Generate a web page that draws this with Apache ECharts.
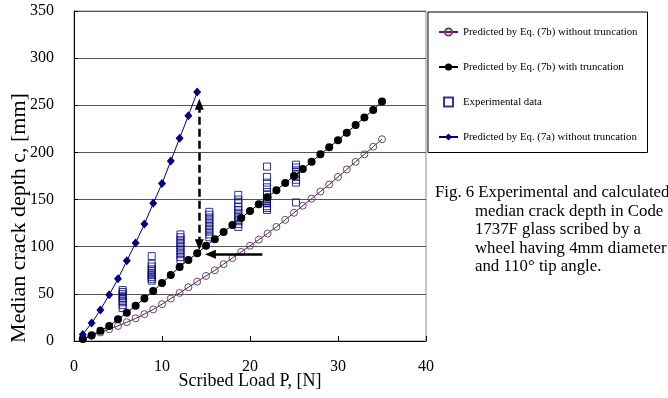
<!DOCTYPE html>
<html><head><meta charset="utf-8">
<script src="https://cdn.jsdelivr.net/npm/echarts@6/dist/echarts.min.js"></script>
<style>html,body{margin:0;padding:0;background:#fff}#c{width:668px;height:398px}</style>
</head><body><div id="c"></div>
<script>
// ---- data ----
const loads = [1,2,3,4,5,6,7,8,9,10,11,12,13,14,15,16,17,18,19,20,21,22,23,24,25,26,27,28,29,30,31,32,33,34,35];
const eq7bNoTrunc = [2.5,5.5,9,12.5,16,20,24,28.5,33.5,39,45,51,57,63,69,75,81.5,88,94.5,101,107.5,114,121,128.5,136,143.5,151,158.5,166,174,182,190,198,206,214];
const eq7bTrunc = [2,6,11,16,23,30,37.5,45,53,61.5,70,78.5,86,93,101,108,115.5,123,130.5,138,145,152.5,160,167.5,175,182.5,190,198,205.5,213,221,229,237,245,254];
const loads7a = [1,2,3,4,5,6,7,8,9,10,11,12,13,14];
const eq7a = [7,19,33,49,66,85,104,124,146,167,191,215,239,264];
const expLoads = [5.53, 8.83, 12.1, 15.38, 18.67, 21.93, 25.23];
const expDepths = [
  [35,38,41,44,46,48,50,52,54],
  [64,66,68,70,72,74,76,79,82,90],
  [86,89,92,95,98,101,104,107,110,113],
  [110,113,116,119,122,125,128,131,134,137],
  [121,124,127,130,133,136,139,142,146,150,155],
  [139,141,143,146,148,150,152,155,158,163,168,174,185],
  [147,168,171,174,177,179,181,184,187]
];
const xTickValues = [0,10,20,30,40];
const yTickValues = [0,50,100,150,200,250,300,350];
const seriesNames = [
  'Predicted by Eq. (7b) without truncation',
  'Predicted by Eq. (7b) with truncation',
  'Experimental data',
  'Predicted by Eq. (7a) without truncation'
];
const captionLines = [
  'Fig. 6 Experimental and calculated',
  'median crack depth in Code',
  '1737F glass scribed by a',
  'wheel having 4mm diameter',
  'and 110\u00b0 tip angle.'
];
const yAxisTitle = 'Median crack depth c, [mm]';
const xAxisTitle = 'Scribed Load P, [N]';
// annotation arrows (data coordinates)
const vArrow = [[14.24, 102], [14.24, 251]];
const hArrow = [[21.4, 92], [15.5, 92]];

// ---- build ----
const serif = '"Liberation Serif", "Times New Roman", serif';
const expPoints = [];
expLoads.forEach((p, i) => expDepths[i].forEach(c => expPoints.push([p, c])));

const chart = echarts.init(document.getElementById('c'), null, {renderer: 'canvas'});
const graphics = [{
  type: 'text', x: 19, y: 218, rotation: Math.PI / 2,
  style: {text: yAxisTitle, font: '22px ' + serif, fill: '#000', textAlign: 'center', textVerticalAlign: 'middle'}
}];
captionLines.forEach((t, i) => graphics.push({
  type: 'text', x: i === 0 ? 435 : 475, y: 193 + i * 18.4,
  style: {text: t, font: '16.8px ' + serif, fill: '#000', textAlign: 'left', textVerticalAlign: 'middle'}
}));

chart.setOption({
  animation: false,
  backgroundColor: '#fff',
  grid: {left: 74, top: 11, width: 352, height: 330, show: true, borderColor: '#888', borderWidth: 1},
  xAxis: {
    type: 'value', min: 0, max: 40, interval: 10,
    axisLine: {lineStyle: {color: '#000', width: 1}},
    axisTick: {inside: true, length: 5, lineStyle: {color: '#000'}},
    splitLine: {show: false},
    axisLabel: {margin: 18, color: '#000', fontFamily: serif, fontSize: 16,
      formatter: v => xTickValues.includes(v) ? String(v) : ''},
    name: xAxisTitle, nameLocation: 'middle', nameGap: 31, nameMoveOverlap: false,
    nameTextStyle: {color: '#000', fontFamily: serif, fontSize: 18}
  },
  yAxis: {
    type: 'value', min: 0, max: 350, interval: 50,
    axisLine: {show: true, lineStyle: {color: '#000', width: 1}},
    axisTick: {show: true, inside: true, length: 4, lineStyle: {color: '#000'}},
    splitLine: {show: true, lineStyle: {color: '#555', width: 1.2}},
    axisLabel: {margin: 20, color: '#000', fontFamily: serif, fontSize: 16,
      formatter: v => yTickValues.includes(v) ? String(v) : ''}
  },
  legend: {
    orient: 'vertical', left: 428, top: 12,
    padding: [14.5, 10, 10, 10],
    itemWidth: 19, itemHeight: 9, itemGap: 24,
    borderColor: '#000', borderWidth: 1, backgroundColor: '#fff',
    textStyle: {color: '#000', fontFamily: serif, fontSize: 10.8},
    data: [
      {name: seriesNames[0]},
      {name: seriesNames[1]},
      {name: seriesNames[2], icon: 'path://M0,0H10V10H0Z'},
      {name: seriesNames[3]}
    ]
  },
  graphic: graphics,
  series: [
    {
      name: seriesNames[0], type: 'line',
      data: loads.map((p, i) => [p, eq7bNoTrunc[i]]),
      symbol: 'circle', symbolSize: 7,
      lineStyle: {color: '#800080', width: 1},
      itemStyle: {color: 'rgba(255,255,255,0)', borderColor: '#555', borderWidth: 1},
      emphasis: {disabled: true}
    },
    {
      name: seriesNames[1], type: 'line',
      data: loads.map((p, i) => [p, eq7bTrunc[i]]),
      symbol: 'circle', symbolSize: 8,
      lineStyle: {color: '#000', width: 1},
      itemStyle: {color: '#000'},
      emphasis: {disabled: true},
      markLine: {
        silent: true, animation: false,
        symbol: ['triangle', 'triangle'], symbolSize: [9, 11],
        label: {show: false},
        emphasis: {disabled: true},
        data: [
          [{coord: vArrow[0], lineStyle: {color: '#000', width: 2.5, type: [8, 4]}}, {coord: vArrow[1]}],
          [{coord: hArrow[0], symbol: 'none', lineStyle: {color: '#000', width: 2.5, type: 'solid'}}, {coord: hArrow[1], symbol: 'triangle'}]
        ]
      }
    },
    {
      name: seriesNames[2], type: 'scatter',
      data: expPoints,
      symbol: 'rect', symbolSize: 7,
      itemStyle: {color: 'rgba(255,255,255,0)', borderColor: '#000080', borderWidth: 1},
      emphasis: {disabled: true}
    },
    {
      name: seriesNames[3], type: 'line',
      data: loads7a.map((p, i) => [p, eq7a[i]]),
      symbol: 'diamond', symbolSize: [8, 9],
      lineStyle: {color: '#000080', width: 1},
      itemStyle: {color: '#000080'},
      emphasis: {disabled: true}
    }
  ]
});
</script></body></html>
